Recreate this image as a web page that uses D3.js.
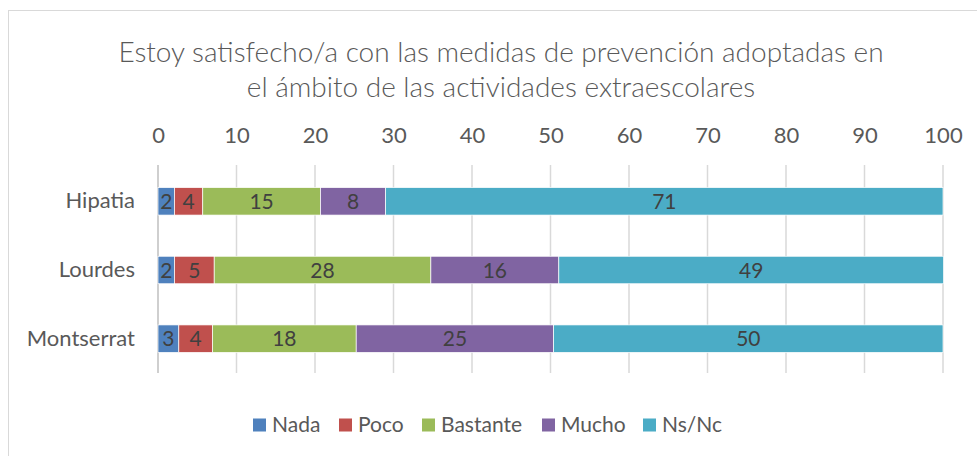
<!DOCTYPE html>
<html>
<head>
<meta charset="utf-8">
<script src="https://cdn.jsdelivr.net/npm/d3@7"></script>
<style>
  body { margin: 0; background: #fff; }
  svg text { font-family: Lato, "Liberation Sans", sans-serif; }
</style>
</head>
<body>
<svg id="canvas" width="977" height="456"></svg>
<script>
// données (en %)
let centros = ['Hipatia', 'Lourdes', 'Montserrat']
let respuestas = ['Nada', 'Poco', 'Bastante', 'Mucho', 'Ns/Nc']
let nada     = [2.1, 2.1, 2.65]
let poco     = [3.6, 5.06, 4.3]
let bastante = [15.0, 27.6, 18.3]
let mucho    = [8.3, 16.3, 25.15]
let nsnc     = [71.0, 49.0, 49.6]
let ticks = [0, 10, 20, 30, 40, 50, 60, 70, 80, 90, 100]
let colores = ['#4f81bd', '#c0504d', '#9bbb59', '#8064a2', '#4bacc6']
let titulo = ['Estoy satisfecho/a con las medidas de prevención adoptadas en',
              'el ámbito de las actividades extraescolares']

let series = [nada, poco, bastante, mucho, nsnc]
let tabla = centros.map((c, i) => {
  let fila = { centro: c }
  respuestas.forEach((r, j) => { fila[r] = series[j][i] })
  return fila
})

let canvas = d3.select('#canvas')

// cadre
canvas.append('rect')
  .attr('x', 8.5).attr('y', 10.5)
  .attr('width', 1000).attr('height', 500)
  .attr('fill', 'none').attr('stroke', '#d9d9d9')

let x = d3.scaleLinear().domain([0, 100]).range([158, 943])
let y = d3.scaleBand().domain(centros).range([167, 373]).paddingInner(0.6).paddingOuter(0.3)

// titre
canvas.append('g').selectAll('text')
  .data(titulo)
  .enter()
  .append('text')
  .attr('x', 501)
  .attr('y', (d, i) => 62 + i * 34.5)
  .attr('text-anchor', 'middle')
  .attr('font-size', 28)
  .attr('font-weight', 300)
  .attr('fill', '#595959')
  .text(d => d)

// grille
canvas.append('g').selectAll('line')
  .data(ticks)
  .enter()
  .append('line')
  .attr('x1', d => x(d)).attr('x2', d => x(d))
  .attr('y1', 165).attr('y2', 373)
  .attr('stroke', d => d === 0 ? '#bfbfbf' : '#d9d9d9')
  .attr('stroke-width', 1.5)

// axe du haut
let axeX = canvas.append('g')
  .attr('transform', 'translate(0,143)')
  .call(d3.axisTop(x).tickValues(ticks).tickSize(0).tickPadding(0))
axeX.select('.domain').remove()
axeX.selectAll('text')
  .attr('dy', 0)
  .attr('font-size', 22)
  .attr('fill', '#595959')

// axe des catégories
let axeY = canvas.append('g')
  .attr('transform', 'translate(158,0)')
  .call(d3.axisLeft(y).tickSize(0).tickPadding(23))
axeY.select('.domain').remove()
axeY.selectAll('text')
  .attr('font-size', 22)
  .attr('fill', '#595959')

// barres empilées
let pile = d3.stack().keys(respuestas)(tabla)

let groupes = canvas.append('g').selectAll('g')
  .data(pile)
  .enter()
  .append('g')
  .attr('fill', (d, i) => colores[i])

groupes.selectAll('rect')
  .data(d => d)
  .enter()
  .append('rect')
  .attr('x', d => x(d[0]))
  .attr('y', d => y(d.data.centro))
  .attr('width', d => x(d[1]) - x(d[0]))
  .attr('height', y.bandwidth())
  .attr('stroke', '#fff')
  .attr('stroke-width', 0.7)

groupes.selectAll('text')
  .data(d => d)
  .enter()
  .append('text')
  .attr('x', d => (x(d[0]) + x(d[1])) / 2)
  .attr('y', d => y(d.data.centro) + y.bandwidth() / 2)
  .attr('dy', '0.36em')
  .attr('text-anchor', 'middle')
  .attr('font-size', 21)
  .attr('fill', '#404040')
  .text(d => Math.round(d[1] - d[0]))

// légende
let legX = [253, 339, 422, 542, 643]
let legende = canvas.append('g').selectAll('g')
  .data(respuestas)
  .enter()
  .append('g')
  .attr('transform', (d, i) => 'translate(' + legX[i] + ',418.5)')
legende.append('rect')
  .attr('width', 13).attr('height', 13)
  .attr('fill', (d, i) => colores[i])
legende.append('text')
  .attr('x', 19).attr('y', 13.5)
  .attr('font-size', 21)
  .attr('fill', '#595959')
  .text(d => d)
</script>
</body>
</html>
